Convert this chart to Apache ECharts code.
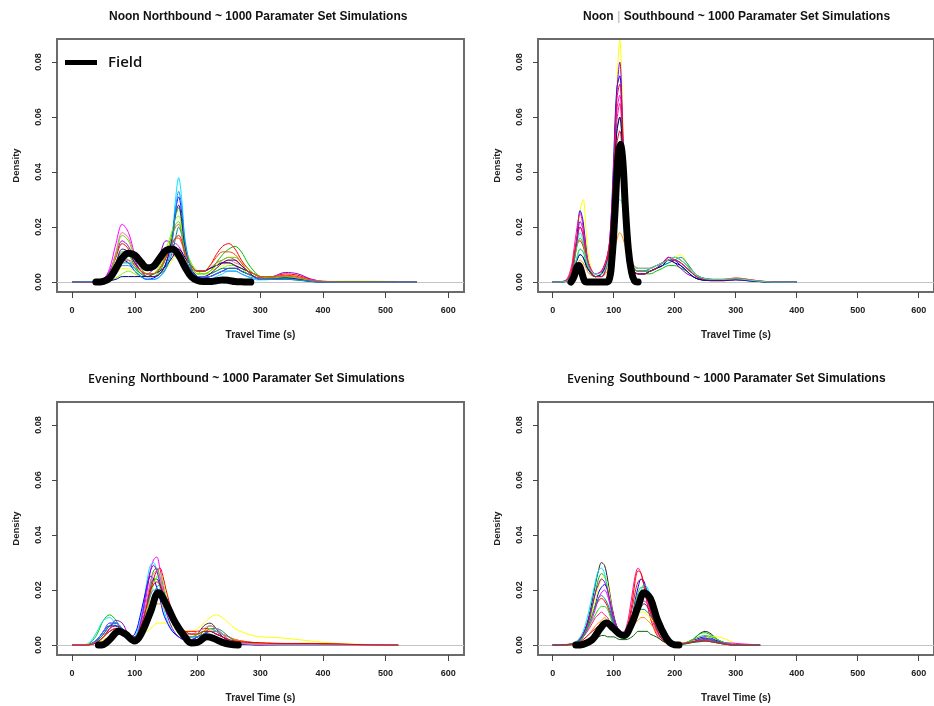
<!DOCTYPE html>
<html>
<head>
<meta charset="utf-8">
<script src="https://cdn.jsdelivr.net/npm/echarts@6/dist/echarts.min.js"></script>
<style>
  html, body { margin: 0; padding: 0; background: #fff; }
  #chart { width: 934px; height: 706px; }
</style>
</head>
<body>
<div id="chart"></div>
<script>
// ---- data (travel time s, density) ----
var xTicks = [0, 100, 200, 300, 400, 500, 600];
var yTicks = [0, 0.02, 0.04, 0.06, 0.08];

// Noon Northbound
var noonNbX = [0,20,40,50,60,70,80,90,100,110,120,130,140,150,160,165,170,175,180,190,200,210,220,230,240,250,260,270,280,290,300,320,340,360,380,400,450,500,550];
var noonNbSims = [
  [0,0,0.0002,0.001,0.005, 0.014,0.021,0.018,0.010,0.005, 0.003,0.003,0.005,0.009,0.013, 0.014,0.013,0.011,0.008,0.005, 0.004,0.004,0.005,0.006,0.007, 0.007,0.006,0.004,0.003,0.002, 0.0015,0.0015,0.002,0.0015,0.0005, 0.0001,0,0,0],
  [0,0,0,0.0003,0.002, 0.006,0.009,0.008,0.005,0.002, 0.001,0.001,0.002,0.006,0.018, 0.030,0.038,0.030,0.016,0.005, 0.002,0.001,0.001,0.002,0.003, 0.004,0.004,0.003,0.002,0.001, 0.0008,0.001,0.0015,0.001,0.0003, 0,0,0,0],
  [0,0,0,0.0002,0.0015, 0.005,0.008,0.007,0.004,0.002, 0.001,0.0015,0.003,0.007,0.017, 0.026,0.031,0.025,0.014,0.005, 0.002,0.0015,0.002,0.003,0.004, 0.005,0.005,0.004,0.003,0.002, 0.001,0.0015,0.002,0.0015,0.0005, 0.0001,0,0,0],
  [0,0,0,0.0003,0.002, 0.007,0.011,0.010,0.006,0.003, 0.002,0.002,0.004,0.009,0.018, 0.024,0.027,0.022,0.014,0.006, 0.003,0.003,0.004,0.007,0.010, 0.012,0.013,0.011,0.007,0.004, 0.002,0.001,0.001,0.0008,0.0003, 0.0001,0,0,0],
  [0,0,0,0.0003,0.003, 0.009,0.014,0.012,0.007,0.004, 0.003,0.003,0.005,0.009,0.014, 0.016,0.017,0.015,0.011,0.006, 0.004,0.004,0.006,0.010,0.013, 0.014,0.012,0.008,0.005,0.003, 0.002,0.002,0.003,0.0025,0.001, 0.0003,0,0,0],
  [0,0,0.0001,0.001,0.004, 0.010,0.015,0.013,0.008,0.004, 0.003,0.005,0.010,0.015,0.014, 0.011,0.008,0.006,0.004,0.002, 0.0015,0.0015,0.002,0.003,0.004, 0.005,0.005,0.004,0.003,0.002, 0.0015,0.002,0.0035,0.003,0.0012, 0.0003,0.0001,0,0],
  [0,0,0,0.0002,0.001, 0.003,0.005,0.005,0.004,0.003, 0.002,0.002,0.003,0.005,0.008, 0.010,0.011,0.010,0.008,0.005, 0.003,0.003,0.004,0.005,0.006, 0.007,0.006,0.005,0.004,0.003, 0.002,0.0015,0.0015,0.001,0.0005, 0.0003,0.0004,0.0003,0.0001],
  [0,0,0,0.0003,0.002, 0.006,0.010,0.010,0.007,0.004, 0.003,0.003,0.005,0.010,0.017, 0.020,0.021,0.018,0.012,0.006, 0.004,0.004,0.005,0.007,0.008, 0.009,0.008,0.006,0.004,0.002, 0.0015,0.0015,0.002,0.0015,0.0005, 0.0001,0,0,0],
  [0,0,0,0.0001,0.0005, 0.0015,0.003,0.004,0.003,0.002, 0.002,0.003,0.006,0.012,0.019, 0.023,0.024,0.020,0.013,0.007, 0.004,0.003,0.003,0.004,0.005, 0.006,0.006,0.005,0.003,0.002, 0.001,0.001,0.0015,0.001,0.0003, 0,0,0,0],
  [0,0,0,0.0004,0.003, 0.011,0.018,0.016,0.010,0.006, 0.005,0.005,0.007,0.009,0.010, 0.010,0.010,0.009,0.007,0.005, 0.004,0.004,0.005,0.006,0.007, 0.008,0.007,0.006,0.004,0.003, 0.002,0.002,0.0025,0.002,0.0008, 0.0002,0,0,0],
  [0,0,0.0001,0.0005,0.002, 0.005,0.007,0.007,0.005,0.003, 0.002,0.002,0.003,0.005,0.011, 0.016,0.020,0.017,0.010,0.004, 0.002,0.002,0.003,0.004,0.005, 0.005,0.005,0.004,0.003,0.002, 0.001,0.001,0.001,0.0007,0.0002, 0,0,0,0],
  [0,0,0,0.0001,0.0005, 0.001,0.002,0.002,0.002,0.002, 0.002,0.003,0.004,0.006,0.009, 0.011,0.012,0.011,0.009,0.006, 0.004,0.004,0.005,0.006,0.007, 0.007,0.006,0.005,0.004,0.003, 0.002,0.0015,0.0015,0.001,0.0004, 0.0001,0,0,0],
  [0,0,0,0.0003,0.0025, 0.010,0.017,0.015,0.009,0.005, 0.003,0.003,0.005,0.010,0.017, 0.021,0.022,0.018,0.012,0.006, 0.003,0.003,0.004,0.006,0.008, 0.009,0.009,0.007,0.005,0.003, 0.002,0.0015,0.002,0.0015,0.0005, 0.0001,0,0,0],
  [0,0,0,0.0002,0.0015, 0.007,0.012,0.011,0.007,0.004, 0.002,0.002,0.003,0.007,0.016, 0.025,0.028,0.022,0.013,0.005, 0.002,0.002,0.003,0.005,0.007, 0.008,0.008,0.006,0.004,0.002, 0.001,0.001,0.0015,0.001,0.0003, 0,0,0,0],
  [0,0,0,0.0002,0.001, 0.004,0.008,0.008,0.006,0.004, 0.003,0.003,0.005,0.009,0.014, 0.016,0.016,0.014,0.010,0.006, 0.004,0.004,0.006,0.009,0.011, 0.011,0.010,0.007,0.004,0.003, 0.002,0.002,0.0025,0.002,0.0008, 0.0002,0,0,0],
  [0,0.0001,0.0002,0.0005,0.0015, 0.004,0.006,0.006,0.004,0.002, 0.001,0.001,0.002,0.005,0.015, 0.026,0.033,0.027,0.015,0.005, 0.002,0.002,0.002,0.003,0.004, 0.004,0.004,0.003,0.002,0.0015, 0.001,0.001,0.0012,0.0008,0.0003, 0,0,0,0]
];
var noonNbFieldX = [38,50,60,70,80,90,100,110,120,130,140,150,160,170,180,190,200,210,220,230,240,250,260,270,285];
var noonNbFieldY = [0,0.0003,0.0015,0.005,0.0088,0.0105,0.0098,0.0072,0.0052,0.0058,0.0088,0.0115,0.012,0.0098,0.0055,0.002,0.0006,0.0002,0.0002,0.0005,0.0008,0.0006,0.0002,0.0001,0];

// Noon Southbound
var noonSbX = [0,20,30,35,40,45,50,55,60,70,80,90,95,100,105,110,115,120,125,130,140,150,160,170,180,190,200,210,220,230,240,260,280,300,320,340,360,400];
var noonSbSims = [
  [0,0.0002,0.002,0.006,0.014,0.026,0.030,0.018,0.008,0.002, 0.002,0.006,0.014,0.035,0.070,0.088,0.060,0.025,0.010,0.005, 0.003,0.003,0.004,0.005,0.006,0.008,0.009,0.010,0.007,0.004, 0.002,0.001,0.0008,0.0012,0.0008,0.0003,0.0001,0],
  [0,0.0003,0.003,0.008,0.017,0.026,0.022,0.012,0.006,0.002, 0.003,0.009,0.020,0.045,0.070,0.075,0.050,0.022,0.009,0.005, 0.003,0.003,0.004,0.005,0.007,0.009,0.008,0.006,0.004,0.002, 0.001,0.0006,0.0006,0.0009,0.0005,0.0002,0,0],
  [0,0.0003,0.003,0.009,0.016,0.020,0.017,0.010,0.006,0.003, 0.004,0.010,0.020,0.040,0.062,0.068,0.050,0.024,0.010,0.006, 0.004,0.004,0.005,0.006,0.007,0.008,0.008,0.007,0.005,0.003, 0.0015,0.0008,0.0008,0.0012,0.0008,0.0003,0.0001,0],
  [0,0.0004,0.004,0.010,0.014,0.015,0.013,0.009,0.006,0.003, 0.004,0.010,0.018,0.035,0.050,0.055,0.042,0.022,0.011,0.007, 0.005,0.005,0.005,0.006,0.007,0.008,0.009,0.008,0.006,0.004, 0.002,0.001,0.001,0.0015,0.001,0.0004,0.0001,0],
  [0,0.0002,0.002,0.005,0.009,0.012,0.011,0.007,0.004,0.002, 0.003,0.008,0.017,0.036,0.055,0.060,0.045,0.020,0.008,0.004, 0.003,0.003,0.003,0.004,0.005,0.006,0.006,0.005,0.004,0.002, 0.001,0.0005,0.0005,0.0008,0.0005,0.0002,0,0],
  [0,0.0002,0.002,0.007,0.014,0.018,0.015,0.009,0.005,0.002, 0.003,0.008,0.016,0.030,0.042,0.045,0.040,0.025,0.012,0.006, 0.004,0.004,0.004,0.005,0.006,0.007,0.008,0.007,0.005,0.003, 0.0015,0.0008,0.0006,0.001,0.0006,0.0002,0,0],
  [0,0.0001,0.001,0.003,0.006,0.008,0.007,0.005,0.003,0.002, 0.002,0.004,0.007,0.011,0.015,0.018,0.016,0.012,0.008,0.006, 0.005,0.005,0.005,0.006,0.007,0.008,0.009,0.008,0.006,0.004, 0.002,0.001,0.001,0.0015,0.001,0.0004,0.0001,0],
  [0,0.0002,0.002,0.007,0.015,0.022,0.019,0.010,0.005,0.002, 0.002,0.007,0.016,0.038,0.068,0.080,0.055,0.022,0.008,0.004, 0.003,0.003,0.004,0.005,0.006,0.009,0.007,0.005,0.003,0.002, 0.001,0.0005,0.0005,0.0008,0.0005,0.0002,0,0],
  [0,0.0002,0.002,0.005,0.008,0.010,0.009,0.006,0.004,0.002, 0.003,0.007,0.013,0.025,0.036,0.040,0.035,0.022,0.011,0.006, 0.004,0.004,0.004,0.005,0.006,0.007,0.008,0.009,0.007,0.004, 0.002,0.001,0.0008,0.001,0.0006,0.0002,0,0],
  [0,0.0005,0.005,0.012,0.020,0.025,0.020,0.011,0.006,0.003, 0.004,0.009,0.018,0.038,0.058,0.065,0.046,0.020,0.008,0.005, 0.004,0.004,0.005,0.006,0.007,0.009,0.008,0.007,0.005,0.003, 0.0015,0.0008,0.0008,0.0013,0.0009,0.0003,0,0],
  [0,0.0003,0.003,0.008,0.013,0.016,0.014,0.009,0.005,0.002, 0.003,0.008,0.016,0.032,0.046,0.050,0.040,0.022,0.010,0.006, 0.004,0.004,0.005,0.006,0.007,0.008,0.009,0.008,0.006,0.003, 0.0015,0.0008,0.0008,0.0012,0.0008,0.0003,0,0],
  [0,0.0002,0.002,0.005,0.008,0.010,0.009,0.006,0.004,0.002, 0.003,0.008,0.017,0.036,0.054,0.060,0.046,0.021,0.009,0.005, 0.003,0.003,0.004,0.005,0.006,0.008,0.007,0.006,0.004,0.002, 0.001,0.0006,0.0006,0.001,0.0006,0.0002,0,0],
  [0,0.0003,0.003,0.009,0.016,0.020,0.017,0.010,0.005,0.002, 0.002,0.008,0.018,0.040,0.066,0.072,0.052,0.022,0.009,0.005, 0.003,0.003,0.004,0.005,0.007,0.008,0.008,0.007,0.005,0.003, 0.0015,0.0008,0.0008,0.0012,0.0008,0.0003,0.0001,0],
  [0,0.0002,0.002,0.005,0.009,0.012,0.011,0.008,0.005,0.003, 0.003,0.007,0.012,0.021,0.028,0.030,0.028,0.020,0.012,0.007, 0.005,0.005,0.005,0.006,0.007,0.008,0.009,0.008,0.006,0.004, 0.002,0.001,0.001,0.0012,0.0008,0.0003,0,0]
];
var noonSbFieldX = [30,35,40,43,47,52,56,70,85,92,97,102,107,111,115,119,124,129,134,140];
var noonSbFieldY = [0,0.002,0.0055,0.006,0.004,0.0005,0,0,0,0.0005,0.008,0.025,0.045,0.05,0.044,0.028,0.012,0.004,0.0005,0];

// Evening Northbound
var eveNbX = [0,20,30,40,50,60,70,80,90,100,110,120,125,130,135,140,145,150,160,170,180,190,200,210,220,230,240,250,260,280,300,320,340,360,380,400,430,470,520];
var eveNbSims = [
  [0,0,0.0005,0.002,0.005,0.008,0.008,0.005,0.003,0.003, 0.008,0.020,0.027,0.031,0.032,0.028,0.022,0.016,0.009,0.005, 0.003,0.002,0.002,0.004,0.006,0.005,0.003,0.0015,0.0008,0.0004, 0.0002,0.0001,0,0,0,0,0,0,0],
  [0,0,0.001,0.004,0.009,0.011,0.009,0.005,0.002,0.002, 0.006,0.017,0.023,0.027,0.028,0.025,0.020,0.015,0.008,0.004, 0.002,0.002,0.003,0.005,0.007,0.006,0.004,0.002,0.001,0.0005, 0.0002,0.0001,0,0,0,0,0,0,0],
  [0,0.0001,0.0015,0.005,0.009,0.010,0.007,0.004,0.002,0.003, 0.010,0.024,0.029,0.030,0.027,0.021,0.015,0.010,0.005,0.003, 0.002,0.002,0.002,0.003,0.004,0.003,0.002,0.001,0.0005,0.0002, 0.0001,0,0,0,0,0,0,0,0],
  [0,0.0002,0.0005,0.001,0.002,0.003,0.004,0.004,0.003,0.003, 0.004,0.005,0.006,0.007,0.008,0.008,0.008,0.008,0.007,0.006, 0.005,0.005,0.006,0.008,0.010,0.011,0.010,0.008,0.006,0.004, 0.003,0.0028,0.0025,0.002,0.0015,0.001,0.0005,0.0002,0.0001],
  [0,0,0.0003,0.001,0.003,0.006,0.007,0.006,0.003,0.002, 0.005,0.013,0.019,0.024,0.027,0.028,0.025,0.020,0.012,0.007, 0.005,0.005,0.005,0.006,0.006,0.005,0.004,0.003,0.002,0.0012, 0.0008,0.0006,0.0005,0.0005,0.0005,0.0005,0.0003,0,0],
  [0,0,0.0005,0.002,0.005,0.007,0.007,0.005,0.003,0.004, 0.012,0.022,0.025,0.024,0.021,0.017,0.012,0.009,0.005,0.003, 0.002,0.002,0.003,0.004,0.005,0.004,0.003,0.0015,0.0008,0.0003, 0.0001,0,0,0,0,0,0,0,0],
  [0,0,0.0003,0.0015,0.004,0.007,0.008,0.006,0.003,0.002, 0.006,0.016,0.021,0.024,0.024,0.022,0.018,0.013,0.008,0.005, 0.003,0.003,0.004,0.007,0.008,0.006,0.003,0.0015,0.0007,0.0003, 0.0001,0,0,0,0,0,0,0,0],
  [0,0,0.0003,0.001,0.003,0.005,0.006,0.005,0.003,0.003, 0.005,0.009,0.011,0.013,0.015,0.015,0.014,0.012,0.009,0.006, 0.004,0.004,0.004,0.005,0.005,0.005,0.004,0.003,0.002,0.001, 0.0005,0.0003,0.0002,0,0,0,0,0,0],
  [0,0,0.0002,0.001,0.003,0.006,0.009,0.008,0.004,0.003, 0.009,0.022,0.027,0.029,0.027,0.023,0.017,0.012,0.006,0.003, 0.002,0.002,0.003,0.004,0.005,0.004,0.003,0.0015,0.0006,0.0002, 0,0,0,0,0,0,0,0,0],
  [0,0,0.0003,0.0015,0.004,0.007,0.008,0.006,0.003,0.002, 0.004,0.010,0.014,0.018,0.021,0.022,0.020,0.017,0.011,0.007, 0.004,0.003,0.003,0.004,0.006,0.006,0.005,0.003,0.0015,0.0006, 0.0002,0.0001,0,0,0,0,0,0,0],
  [0,0,0.0002,0.001,0.003,0.005,0.006,0.005,0.003,0.002, 0.005,0.013,0.018,0.022,0.025,0.026,0.023,0.018,0.011,0.006, 0.004,0.003,0.004,0.005,0.006,0.005,0.004,0.002,0.001,0.0005, 0.0002,0.0001,0,0,0,0,0,0,0],
  [0,0,0.0004,0.002,0.005,0.008,0.008,0.006,0.004,0.003, 0.007,0.015,0.018,0.020,0.020,0.019,0.016,0.013,0.008,0.005, 0.003,0.003,0.003,0.004,0.005,0.005,0.004,0.002,0.001,0.0004, 0.0001,0,0,0,0,0,0,0,0],
  [0,0,0.0003,0.0012,0.003,0.005,0.006,0.005,0.003,0.002, 0.006,0.017,0.023,0.026,0.027,0.025,0.020,0.015,0.009,0.005, 0.004,0.004,0.005,0.006,0.007,0.006,0.004,0.002,0.001,0.0005, 0.0002,0.0001,0,0,0,0,0,0,0],
  [0,0,0.0002,0.001,0.003,0.005,0.006,0.005,0.003,0.003, 0.007,0.015,0.020,0.022,0.023,0.022,0.019,0.015,0.010,0.006, 0.005,0.004,0.004,0.005,0.005,0.004,0.003,0.002,0.0015,0.001, 0.0008,0.0007,0.0006,0.0006,0.0006,0.0005,0.0004,0.0001,0]
];
var eveNbFieldX = [42,50,60,75,85,100,110,125,138,150,165,180,190,200,215,225,240,252,265];
var eveNbFieldY = [0,0.0002,0.002,0.005,0.004,0.0015,0.004,0.012,0.019,0.015,0.008,0.003,0.0008,0.001,0.003,0.0025,0.001,0.0003,0];

// Evening Southbound
var eveSbX = [0,10,20,30,40,50,60,70,75,80,85,90,95,100,110,120,130,135,140,145,150,155,160,170,180,190,200,210,220,230,240,250,260,270,280,290,300,320,340];
var eveSbSims = [
  [0,0,0.0001,0.0003,0.001,0.004,0.011,0.022,0.027,0.030, 0.029,0.024,0.017,0.011,0.004,0.003,0.006,0.009,0.012,0.014, 0.015,0.014,0.012,0.007,0.003,0.001,0.0005,0.0005,0.001,0.002, 0.004,0.005,0.004,0.002,0.001,0.0004,0.0001,0,0],
  [0,0,0.0001,0.0003,0.001,0.003,0.006,0.010,0.011,0.012, 0.011,0.010,0.008,0.006,0.004,0.006,0.018,0.025,0.028,0.026, 0.022,0.017,0.012,0.005,0.002,0.0008,0.0005,0.0007,0.001,0.002, 0.002,0.0025,0.002,0.0015,0.0008,0.0003,0.0001,0,0],
  [0,0,0,0.0002,0.0008,0.003,0.009,0.019,0.024,0.026, 0.025,0.021,0.015,0.009,0.004,0.003,0.007,0.011,0.015,0.018, 0.020,0.020,0.018,0.012,0.006,0.002,0.0008,0.0006,0.001,0.002, 0.004,0.0045,0.0035,0.002,0.001,0.0004,0.0001,0,0],
  [0,0,0.0001,0.0003,0.001,0.003,0.008,0.015,0.019,0.021, 0.022,0.020,0.015,0.010,0.005,0.004,0.010,0.016,0.021,0.024, 0.023,0.019,0.014,0.006,0.002,0.0006,0.0003,0.0004,0.0008,0.0015, 0.0025,0.003,0.0025,0.0015,0.0007,0.0002,0,0,0],
  [0,0.0001,0.0002,0.0005,0.0015,0.004,0.009,0.014,0.016,0.017, 0.016,0.014,0.011,0.008,0.004,0.005,0.015,0.023,0.027,0.026, 0.021,0.015,0.010,0.004,0.0015,0.0005,0.0003,0.0005,0.001,0.0015, 0.002,0.002,0.0018,0.0012,0.0006,0.0002,0,0,0],
  [0,0,0,0.0002,0.0008,0.003,0.008,0.016,0.021,0.024, 0.025,0.022,0.016,0.010,0.004,0.003,0.006,0.009,0.011,0.012, 0.012,0.011,0.010,0.007,0.004,0.002,0.001,0.0008,0.001,0.0015, 0.002,0.0025,0.003,0.003,0.0025,0.0015,0.0007,0.0002,0],
  [0,0,0.0001,0.0004,0.0015,0.005,0.013,0.023,0.027,0.028, 0.026,0.020,0.013,0.007,0.003,0.003,0.008,0.013,0.017,0.020, 0.022,0.021,0.018,0.010,0.004,0.001,0.0004,0.0003,0.0006,0.0012, 0.002,0.0025,0.002,0.0012,0.0005,0.0001,0,0,0],
  [0,0,0.0001,0.0003,0.001,0.003,0.007,0.013,0.017,0.019, 0.020,0.018,0.014,0.009,0.005,0.004,0.008,0.012,0.014,0.016, 0.016,0.015,0.013,0.008,0.004,0.0015,0.0008,0.0006,0.0008,0.0012, 0.0015,0.0018,0.0015,0.0012,0.001,0.0008,0.0006,0.0003,0.0001],
  [0,0,0,0.0002,0.0006,0.002,0.004,0.007,0.008,0.009, 0.010,0.009,0.008,0.006,0.004,0.004,0.006,0.008,0.009,0.010, 0.010,0.009,0.008,0.005,0.003,0.0015,0.0008,0.0006,0.0008,0.001, 0.0015,0.0015,0.0012,0.0008,0.0004,0.0001,0,0,0],
  [0,0,0,0.0001,0.0003,0.001,0.002,0.003,0.003,0.0035, 0.0035,0.003,0.003,0.003,0.002,0.002,0.003,0.004,0.005,0.005, 0.005,0.005,0.004,0.003,0.0015,0.0007,0.0003,0.0003,0.0005,0.001, 0.0012,0.0015,0.0012,0.0008,0.0004,0.0001,0,0,0],
  [0,0,0.0001,0.0003,0.001,0.004,0.010,0.019,0.022,0.024, 0.023,0.020,0.015,0.010,0.004,0.003,0.007,0.011,0.015,0.017, 0.019,0.018,0.016,0.010,0.005,0.0015,0.0006,0.0005,0.0008,0.0012, 0.002,0.0025,0.002,0.0012,0.0006,0.0002,0,0,0],
  [0,0,0.0001,0.0003,0.001,0.003,0.007,0.011,0.013,0.014, 0.014,0.013,0.010,0.007,0.004,0.004,0.010,0.015,0.019,0.021, 0.021,0.019,0.016,0.010,0.004,0.0015,0.0006,0.0005,0.001,0.002, 0.003,0.0035,0.003,0.002,0.001,0.0003,0,0,0],
  [0,0,0.0001,0.0003,0.001,0.003,0.008,0.014,0.017,0.018, 0.017,0.015,0.012,0.008,0.004,0.004,0.007,0.010,0.012,0.013, 0.013,0.012,0.011,0.007,0.003,0.001,0.0005,0.0005,0.0008,0.0012, 0.0015,0.002,0.0018,0.0012,0.0006,0.0002,0,0,0],
  [0,0,0.0001,0.0002,0.0008,0.002,0.004,0.006,0.007,0.008, 0.008,0.007,0.006,0.005,0.004,0.005,0.013,0.019,0.023,0.024, 0.022,0.018,0.013,0.006,0.002,0.0007,0.0004,0.0004,0.0008,0.0012, 0.0015,0.0015,0.0012,0.0008,0.0004,0.0001,0,0,0]
];
var eveSbFieldX = [38,50,65,78,88,100,110,117,128,140,150,160,172,185,195,207];
var eveSbFieldY = [0,0.0003,0.002,0.006,0.008,0.006,0.004,0.0035,0.007,0.014,0.019,0.017,0.009,0.003,0.0005,0];

// ---- layout / styling ----
var panels = [
  { x: noonNbX, sims: noonNbSims, fx: noonNbFieldX, fy: noonNbFieldY, left: 57, top: 39,
    colors: ["#ff00ff","#00e5ff","#0000ff","#00c000","#ff0000","#9400d3","#ffff00","#d2691e","#7cfc00","#ff69b4","#008b8b","#000080","#66dd00","#4b0082","#ff4500","#1e90ff"] },
  { x: noonSbX, sims: noonSbSims, fx: noonSbFieldX, fy: noonSbFieldY, left: 538, top: 39,
    colors: ["#ffff00","#0000ff","#ff00ff","#ff0000","#00c000","#00e5ff","#ff8c00","#9400d3","#008b8b","#ff1493","#32cd32","#00008b","#dc143c","#40e0d0"] },
  { x: eveNbX, sims: eveNbSims, fx: eveNbFieldX, fy: eveNbFieldY, left: 57, top: 402,
    colors: ["#ff00ff","#00c000","#00e5ff","#ffff00","#ff0000","#0000ff","#333333","#ff8c00","#9400d3","#008b8b","#7cfc00","#1e90ff","#ff69b4","#e00000"] },
  { x: eveSbX, sims: eveSbSims, fx: eveSbFieldX, fy: eveSbFieldY, left: 538, top: 402,
    colors: ["#222222","#ff1493","#00c000","#0000ff","#ff0000","#ffff00","#00e5ff","#ff00ff","#ff8c00","#006400","#9400d3","#32cd32","#008b8b","#dc143c"] }
];

var axisFont = "'Liberation Sans', Arial, sans-serif";
var chart = echarts.init(document.getElementById("chart"), null, { renderer: "canvas" });

var grids = [], xAxes = [], yAxes = [], series = [];
panels.forEach(function (p, i) {
  grids.push({
    left: p.left, top: p.top, width: 407, height: 253,
    show: true, borderColor: "#6b6b6b", borderWidth: 2, backgroundColor: "#fff"
  });
  xAxes.push({
    type: "value", gridIndex: i, min: -24, max: 625,
    name: "Travel Time (s)", nameLocation: "middle", nameGap: 38,
    nameTextStyle: { fontFamily: axisFont, fontWeight: "bold", fontSize: 10, color: "#222" },
    axisLine: { show: false, onZero: false },
    axisTick: { show: true, length: 6, customValues: xTicks, lineStyle: { color: "#444" } },
    axisLabel: { customValues: xTicks, margin: 14, fontFamily: axisFont, fontWeight: "bold", fontSize: 9, color: "#222" },
    splitLine: { show: false }
  });
  yAxes.push({
    type: "value", gridIndex: i, min: -0.0036, max: 0.0884,
    name: "Density", nameLocation: "middle", nameGap: 36, nameRotate: 90,
    nameTextStyle: { fontFamily: axisFont, fontWeight: "bold", fontSize: 9.5, color: "#222" },
    axisLine: { show: false, onZero: false },
    axisTick: { show: true, length: 5, customValues: yTicks, lineStyle: { color: "#444" } },
    axisLabel: {
      customValues: yTicks, rotate: 90, margin: 14,
      fontFamily: axisFont, fontWeight: "bold", fontSize: 9, color: "#222",
      formatter: function (v) { return v.toFixed(2); }
    },
    splitLine: { show: false }
  });

  p.sims.forEach(function (ys, k) {
    var s = {
      type: "line", xAxisIndex: i, yAxisIndex: i,
      data: p.x.map(function (x, j) { return [x, ys[j]]; }),
      smooth: 0.35, symbol: "none", silent: true, z: 2,
      lineStyle: { width: 1, color: p.colors[k % p.colors.length] }
    };
    if (k === 0) {
      s.markLine = {
        silent: true, symbol: ["none", "none"], z: 1,
        lineStyle: { color: "#c4c4c4", type: "solid", width: 1 },
        label: { show: false },
        data: [{ yAxis: 0 }]
      };
    }
    series.push(s);
  });

  series.push({
    name: "Field", type: "line", xAxisIndex: i, yAxisIndex: i,
    data: p.fx.map(function (x, j) { return [x, p.fy[j]]; }),
    smooth: 0.4, symbol: "none", silent: true, z: 5,
    itemStyle: { color: "#000" },
    lineStyle: { width: 7, color: "#000", cap: "round", join: "round" }
  });
});

var titleBold = { fontFamily: axisFont, fontWeight: "bold", fontSize: 12, color: "#111" };
var titleWord = { fontFamily: "'Open Sans', sans-serif", fontWeight: 600, fontSize: 12.5, color: "#111" };

var option = {
  backgroundColor: "#fff",
  animation: false,
  title: [
    { text: "{b|Noon Northbound ~ 1000 Paramater Set Simulations}", left: 104, top: 6,
      textStyle: { rich: { b: titleBold } } },
    { text: "{b|Noon}{c| | }{b|Southbound ~ 1000 Paramater Set Simulations}", left: 578, top: 6,
      textStyle: { rich: { b: titleBold, c: { fontFamily: axisFont, fontSize: 12, color: "#c8c8c8" } } } },
    { text: "{a|Evening} {b|Northbound ~ 1000 Paramater Set Simulations}", left: 83, top: 365,
      textStyle: { rich: { a: titleWord, b: titleBold } } },
    { text: "{a|Evening} {b|Southbound ~ 1000 Paramater Set Simulations}", left: 562, top: 365,
      textStyle: { rich: { a: titleWord, b: titleBold } } }
  ],
  legend: {
    data: ["Field"], left: 60, top: 50, selectedMode: false,
    icon: "rect", itemWidth: 32, itemHeight: 5,
    textStyle: { fontFamily: "'Open Sans', sans-serif", fontWeight: 600, fontSize: 15, color: "#111", padding: [0, 0, 0, 6] }
  },
  grid: grids,
  xAxis: xAxes,
  yAxis: yAxes,
  series: series
};

chart.setOption(option);
</script>
</body>
</html>
